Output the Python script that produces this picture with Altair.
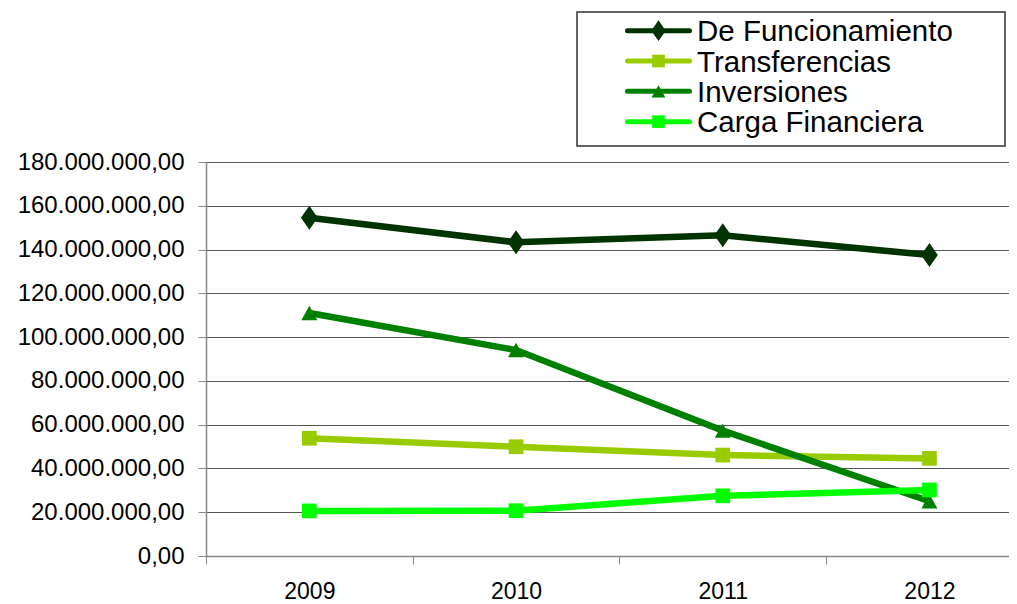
import altair as alt
import pandas as pd

years = [2009, 2010, 2011, 2012]
series = ["De Funcionamiento", "Transferencias", "Inversiones", "Carga Financiera"]
de_funcionamiento = [154500000, 143300000, 146500000, 137500000]
transferencias = [53800000, 49900000, 46100000, 44600000]
inversiones = [111000000, 94100000, 57300000, 25000000]
carga_financiera = [20600000, 20700000, 27500000, 30200000]
colors = ["#003300", "#99CC00", "#008000", "#00FF00"]
y_ticks = [0, 20000000, 40000000, 60000000, 80000000, 100000000, 120000000, 140000000, 160000000, 180000000]

rows = []
for name, vals in zip(series, [de_funcionamiento, transferencias, inversiones, carga_financiera]):
    for yr, v in zip(years, vals):
        rows.append({"year": yr, "serie": name, "valor": v})
df = pd.DataFrame(rows)
legend_df = pd.DataFrame({"serie": series})

FONT = "Liberation Sans"

# marker paths
DIAMOND = "M0,-1.5L1.05,0L0,1.5L-1.05,0Z"
SQUARE = "M-0.92,-0.92H0.92V0.92H-0.92Z"
TRIANGLE = "M0,-0.9L1,0.9L-1,0.9Z"
shape_range = [DIAMOND, SQUARE, TRIANGLE, SQUARE]

step = 206.7
plot_w = 803
plot_h = 394
x_max = 2008.5 + plot_w / step

x_enc = alt.X(
    "year:Q",
    scale=alt.Scale(domain=[2008.5, x_max], nice=False, zero=False),
    axis=alt.Axis(
        title=None,
        values=[2008.5, 2009.5, 2010.5, 2011.5],
        labelExpr="format(datum.value + 0.5, 'd')",
        labelOffset=step / 2,
        labelFlush=False,
        grid=False,
        tickSize=8,
        tickColor="#888888",
        domainColor="#888888",
        domainWidth=1.5,
        labelFont=FONT,
        labelFontSize=23,
        labelColor="#000000",
        labelPadding=16,
    ),
)
y_enc = alt.Y(
    "valor:Q",
    scale=alt.Scale(domain=[0, 180000000], nice=False),
    axis=alt.Axis(
        title=None,
        values=y_ticks,
        labelExpr="replace(replace(replace(format(datum.value, ',.2f'), regexp(',', 'g'), '#'), '.', ','), regexp('#', 'g'), '.')",
        grid=True,
        gridColor="#555555",
        gridWidth=1,
        tickSize=8,
        tickColor="#888888",
        domainColor="#888888",
        domainWidth=1.5,
        labelFont=FONT,
        labelFontSize=24,
        labelColor="#000000",
        labelPadding=14,
    ),
)

color_enc = alt.Color("serie:N", scale=alt.Scale(domain=series, range=colors), legend=None, sort=series)
shape_enc = alt.Shape("serie:N", scale=alt.Scale(domain=series, range=shape_range), legend=None)

lines = alt.Chart(df).mark_line(strokeWidth=6.5).encode(
    x=x_enc,
    y=y_enc,
    color=color_enc,
    order=alt.Order("year:Q"),
)

points = alt.Chart(df).mark_point(filled=True, opacity=1, size=256).encode(
    x=x_enc,
    y=y_enc,
    color=color_enc,
    shape=shape_enc,
)

main_group = alt.layer(lines, points)

# ---- legend (box with line + marker samples and labels) ----
leg_y = alt.Y(
    "serie:N",
    scale=alt.Scale(type="point", domain=series, range=[-131.3, -40.3], padding=0),
    axis=None,
)

leg_box = alt.Chart(pd.DataFrame({"serie": series[:1]})).mark_rect(
    fill="#ffffff", stroke="#333333", strokeWidth=1.5
).encode(
    x=alt.value(371), x2=alt.value(799), y=alt.value(-150), y2=alt.value(-16)
)

leg_lines = alt.Chart(legend_df).mark_rule(strokeWidth=5, strokeCap="round").encode(
    x=alt.value(421.5), x2=alt.value(483.5), y=leg_y, color=color_enc
)

leg_points = alt.Chart(legend_df).mark_point(filled=True, opacity=1, size=190).encode(
    x=alt.value(452.5), y=leg_y, color=color_enc, shape=shape_enc
)

leg_text = alt.Chart(legend_df).mark_text(
    align="left", baseline="alphabetic", dy=10.5, font=FONT, fontSize=29.5, color="#000000"
).encode(
    x=alt.value(491), y=leg_y, text="serie:N"
)

legend_group = alt.layer(leg_box, leg_lines, leg_points, leg_text)

chart = (
    alt.layer(main_group, legend_group)
    .resolve_scale(y="independent")
    .properties(
        width=plot_w,
        height=plot_h,
        autosize=alt.AutoSizeParams(type="none"),
        padding={"left": 198, "top": 154, "right": 0, "bottom": 46},
        background="#ffffff",
    )
    .configure_view(stroke=None)
)

chart.save("out.html", embed_options={"renderer": "svg", "actions": False})
